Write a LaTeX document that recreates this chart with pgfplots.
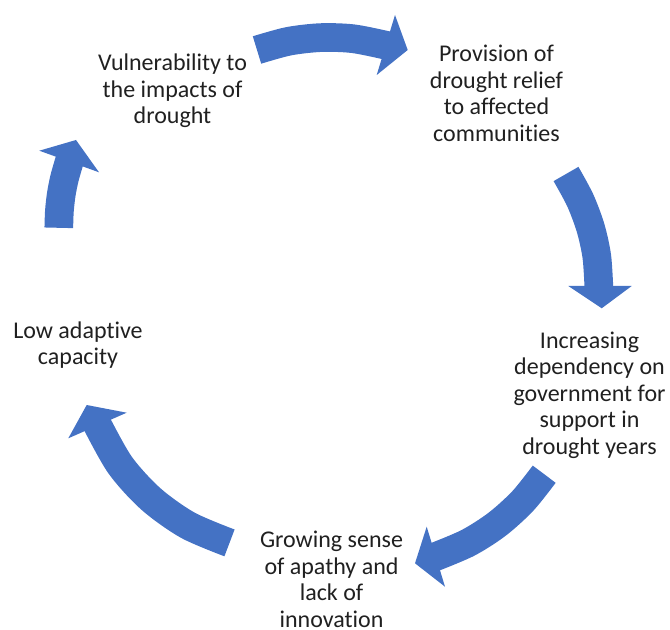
\documentclass[border=0pt]{standalone}
\usepackage{pgfplots}
\pgfplotsset{compat=1.18}
\usepackage{fontspec}
\setmainfont{Carlito}[Ligatures={NoCommon}]
\definecolor{arrowblue}{RGB}{68,114,196}
\definecolor{txt}{RGB}{32,32,32}
\begin{document}
\begin{tikzpicture}
\begin{axis}[x=0.75pt, y=0.75pt, xmin=0, xmax=670, ymin=0, ymax=630,
  y dir=reverse, hide axis, clip=false]
% --- arrow bodies (centre lines of the curved bands) ---
\addplot[draw=arrowblue, line width=21.5pt, smooth, line cap=butt] coordinates
  {(257,50) (288.5,41.3) (321.0,37.6) (353.7,38.8) (389.7,46.1)};
\addplot[draw=arrowblue, line width=21.5pt, smooth, line cap=butt] coordinates
  {(566,174) (580.1,200.0) (590.5,227.7) (596.8,256.5) (599,290)};
\addplot[draw=arrowblue, line width=21.5pt, smooth, line cap=butt] coordinates
  {(544.2,474.2) (522.6,501.2) (496.9,524.4) (467.7,543.0) (432.1,558.0)};
\addplot[draw=arrowblue, line width=21.5pt, smooth, line cap=butt] coordinates
  {(229.5,542.9) (187.6,525.1) (150.7,498.8) (120.0,464.9) (95.9,421.8)};
\addplot[draw=arrowblue, line width=21.5pt, smooth, line cap=butt] coordinates
  {(58.8,227.8) (59.4,211.0) (61.3,194.2) (64.6,177.7) (70.4,157.7)};
% --- arrow heads ---
\addplot[draw=none, fill=arrowblue] coordinates {(395,15) (407.7,50) (376.7,75)} -- cycle;
\addplot[draw=none, fill=arrowblue] coordinates {(568.3,286) (601.7,308.3) (631.7,286)} -- cycle;
\addplot[draw=none, fill=arrowblue] coordinates {(426.7,526.7) (415,563.3) (445,586.7)} -- cycle;
\addplot[draw=none, fill=arrowblue] coordinates {(68.3,438.3) (86.7,405) (126.7,412.7)} -- cycle;
\addplot[draw=none, fill=arrowblue] coordinates {(39.3,150.7) (76,140) (99,172.3)} -- cycle;
% --- texts (anchor = baseline of the last line) ---
\tikzset{lbl/.style={anchor=base, align=center, inner sep=0pt, text=txt,
  font=\fontsize{18}{19.9}\selectfont}}
\node[lbl] at (axis cs:172.5,123.7) {Vulnerability to\\the impacts of\\drought};
\node[lbl] at (axis cs:496.5,141.2) {Provision of\\drought relief\\to affected\\communities};
\node[lbl] at (axis cs:589.5,454.3) {Increasing\\dependency on\\government for\\support in\\drought years};
\node[lbl] at (axis cs:331.5,627.5) {Growing sense\\of apathy and\\lack of\\innovation};
\node[lbl] at (axis cs:78,364.8) {Low adaptive\\capacity};
\end{axis}
\pgfresetboundingbox
\path (current axis.south west) rectangle (current axis.north east);
\end{tikzpicture}
\end{document}
